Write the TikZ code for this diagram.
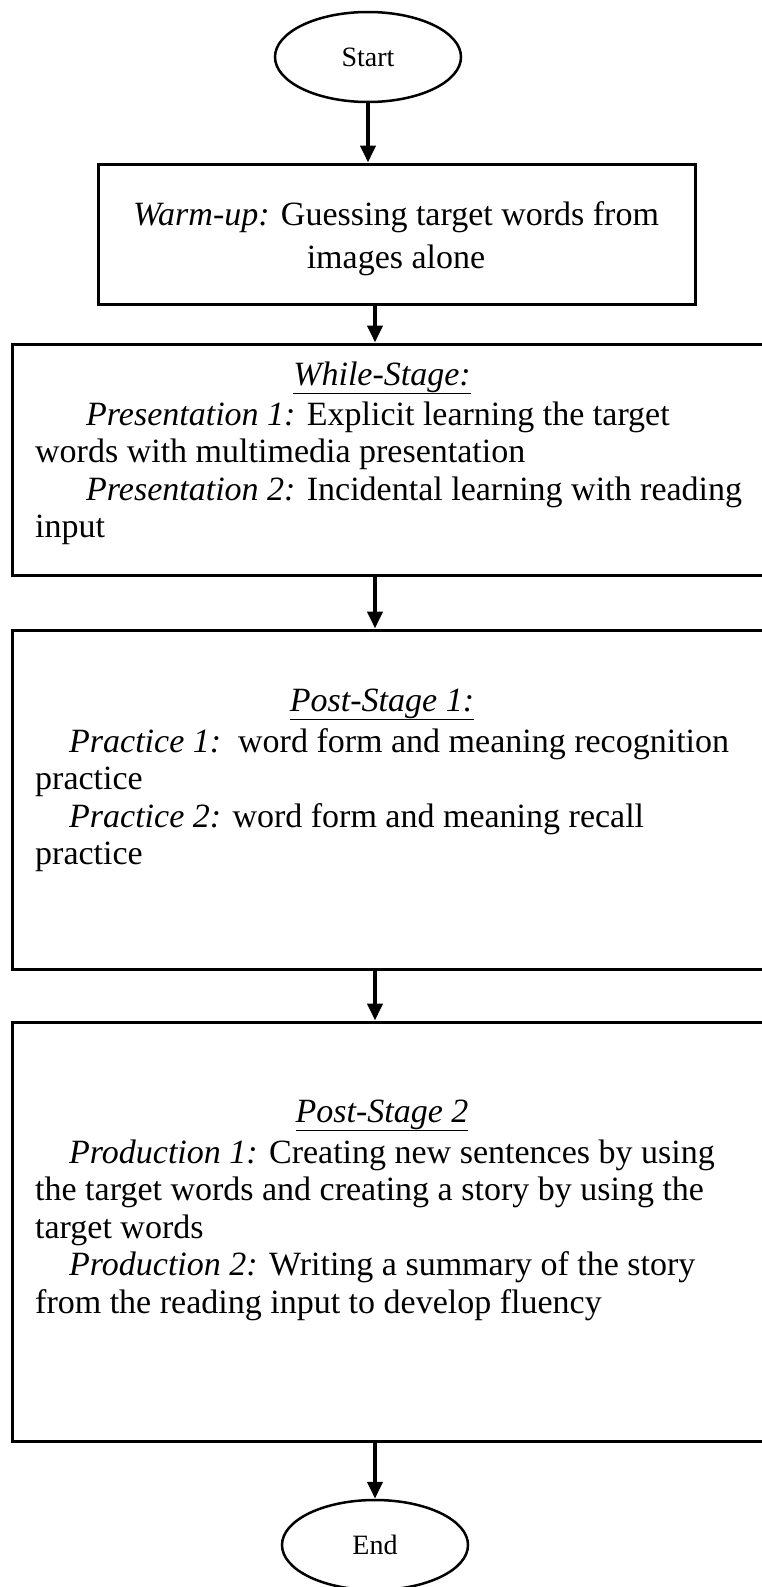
\documentclass[tikz,border=0pt]{standalone}
\usepackage{fontspec}
\setmainfont{Liberation Serif}
\usetikzlibrary{arrows.meta,shapes.geometric}
\begin{document}
\begin{tikzpicture}[x=1pt,y=-1pt,
  term/.style={draw, line width=2.5pt, ellipse, minimum width=186pt, minimum height=90pt,
    inner sep=0pt, font=\fontsize{28}{30}\selectfont},
  stagebox/.style={draw, line width=3pt, rectangle, inner sep=0pt},
  flow/.style={line width=4pt, -{Triangle[length=17pt,width=15pt]}},
  txt/.style={anchor=base west, inner sep=0pt, font=\fontsize{34}{38}\selectfont},
  ctxt/.style={anchor=base, inner sep=0pt, font=\fontsize{34}{38}\selectfont}]
\clip (0,0) rectangle (762,1587);
\fill[white] (0,0) rectangle (762,1587);

% terminals
\node[term] (start) at (368,57) {Start};
\node[term] (end) at (375,1545) {End};

% stage boxes (the wide ones run past the right margin)
\node[stagebox, minimum width=597pt, minimum height=140pt] (warm) at (396.5,234) {};
\node[stagebox, minimum width=778pt, minimum height=231pt] (while) at (401,459.5) {};
\node[stagebox, minimum width=778pt, minimum height=339pt] (post1) at (401,799.5) {};
\node[stagebox, minimum width=778pt, minimum height=419pt] (post2) at (401,1231.5) {};

% common x of the vertical connectors
\coordinate (ax) at (375,0);

% connectors
\draw[flow] (start.south) -- (start.south |- warm.north);
\draw[flow] (warm.south -| ax) -- (while.north -| ax);
\draw[flow] (while.south -| ax) -- (post1.north -| ax);
\draw[flow] (post1.south -| ax) -- (post2.north -| ax);
\draw[flow] (post2.south -| ax) -- (end.north);

% warm-up text
\node[ctxt] (w1) at (396,225) {\textit{Warm-up:} Guessing target words from};
\node[ctxt] (w2) at (396,268) {images alone};

% while-stage text
\node[ctxt] (h1) at (382,385) {\underline{\textit{While-Stage:}}};
\node[txt] (a1) at (86,425) {\textit{Presentation 1:} Explicit learning the target};
\node[txt] (a2) at (35,462) {words with multimedia presentation};
\node[txt] (a3) at (86,500) {\textit{Presentation 2:} Incidental learning with reading};
\node[txt] (a4) at (35,537) {input};

% post-stage 1 text
\node[ctxt] (h2) at (382,711) {\underline{\textit{Post-Stage 1:}}};
\node[txt] (b1) at (69,752) {\textit{Practice 1:}\ \ word form and meaning recognition};
\node[txt] (b2) at (35,789) {practice};
\node[txt] (b3) at (69,827) {\textit{Practice 2:} word form and meaning recall};
\node[txt] (b4) at (35,864) {practice};

% post-stage 2 text
\node[ctxt] (h3) at (382,1122) {\underline{\textit{Post-Stage 2}}};
\node[txt] (c1) at (69,1163) {\textit{Production 1:} Creating new sentences by using};
\node[txt] (c2) at (35,1200) {the target words and creating a story by using the};
\node[txt] (c3) at (35,1238) {target words};
\node[txt] (c4) at (69,1275) {\textit{Production 2:} Writing a summary of the story};
\node[txt] (c5) at (35,1313) {from the reading input to develop fluency};
\end{tikzpicture}
\end{document}
